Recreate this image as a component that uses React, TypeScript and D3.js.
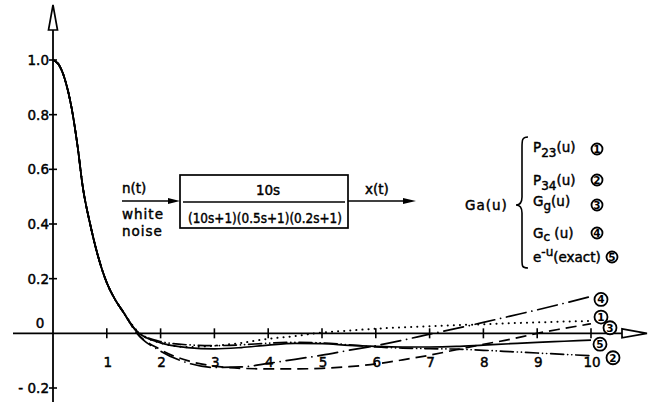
import React from 'react';
import * as d3 from 'd3';

// shared part of all correlation curves (they coincide up to u ~ 1.3)
const headU = [0, 0.1, 0.22, 0.35, 0.46, 0.55, 0.69, 0.84, 1.0, 1.15, 1.3];
const headV = [1.0, 0.985, 0.93, 0.82, 0.68, 0.54, 0.4, 0.28, 0.185, 0.125, 0.08];

// tails after u = 1.3
const tailU = [1.55, 2, 2.5, 3, 3.5, 4, 4.5, 5, 5.5, 6, 6.5, 7, 7.5, 8, 8.5, 9, 9.5, 10];
const p23 = [0.012, -0.035, -0.05, -0.045, -0.035, -0.02, -0.01, 0.003, 0.01, 0.017, 0.022, 0.026, 0.03, 0.033, 0.037, 0.04, 0.043, 0.045];
const p34 = [0.01, -0.03, -0.042, -0.045, -0.042, -0.036, -0.033, -0.035, -0.042, -0.05, -0.054, -0.056, -0.058, -0.062, -0.067, -0.072, -0.077, -0.082];
const gg = [0.004, -0.06, -0.1, -0.12, -0.128, -0.13, -0.13, -0.128, -0.122, -0.112, -0.097, -0.08, -0.06, -0.04, -0.022, 0.0, 0.018, 0.035];
const gc = [0.002, -0.065, -0.108, -0.125, -0.123, -0.11, -0.095, -0.08, -0.062, -0.045, -0.025, -0.003, 0.018, 0.04, 0.063, 0.086, 0.11, 0.135];
const exact = [0.008, -0.035, -0.052, -0.057, -0.052, -0.043, -0.037, -0.038, -0.044, -0.048, -0.05, -0.05, -0.048, -0.043, -0.038, -0.033, -0.029, -0.025];

const xTicks = [1, 2, 3, 4, 5, 6, 7, 8, 9, 10];
const yTicks = [-0.2, 0.2, 0.4, 0.6, 0.8, 1.0];
const yTickLabels = ['- 0.2', '0.2', '0.4', '0.6', '0.8', '1.0'];

const series = [
  { id: 1, vals: p23, dash: '0.1 6', width: 2, cap: 'round', dx: 10, dy: -4 },
  { id: 2, vals: p34, dash: '13 4 0.1 4 0.1 4', width: 1.7, cap: 'round', dx: 22, dy: 2 },
  { id: 3, vals: gg, dash: '11 6', width: 1.7, cap: 'butt', dx: 19, dy: 4 },
  { id: 4, vals: gc, dash: '20 6 0.1 6', width: 1.7, cap: 'round', dx: 10, dy: 3 },
  { id: 5, vals: exact, dash: null, width: 1.7, cap: 'butt', dx: 9, dy: 4 },
];

const FONT = 'DejaVu Sans, sans-serif';

function Circled({ cx, cy, n, r = 6.5 }: { cx: number; cy: number; n: number; r?: number }) {
  return (
    <g>
      <circle cx={cx} cy={cy} r={r} fill="#fff" stroke="#000" strokeWidth={1.8} />
      <text x={cx} y={cy + 3.8} textAnchor="middle" fontSize={10.5} fontWeight="bold" fontFamily={FONT}>
        {n}
      </text>
    </g>
  );
}

export default function App() {
  const width = 649;
  const height = 403;
  const x = d3.scaleLinear().domain([0, 10]).range([53, 591]);
  const y = d3.scaleLinear().domain([-0.2, 1]).range([388, 60]);
  const y0 = y(0);
  const x0 = x(0);

  const line = d3
    .line<[number, number]>()
    .x(d => x(d[0]))
    .y(d => y(d[1]))
    .curve(d3.curveMonotoneX);

  const head: [number, number][] = headU.map((u, i) => [u, headV[i]]);

  const txt = { fontFamily: FONT, fontSize: 13.5, fill: '#000', stroke: '#000', strokeWidth: 0.45 };

  return (
    <svg width={width} height={height} style={{ position: 'absolute', left: 0, top: 0, background: '#fff' }}>
      <rect width={width} height={height} fill="#fff" />

      {/* axes */}
      <line x1={x0} x2={x0} y1={402} y2={30} stroke="#000" strokeWidth={1.8} />
      <path d={`M${x0 - 4.5},30 L${x0},5 L${x0 + 4.5},30 Z`} fill="#fff" stroke="#000" strokeWidth={1.7} />
      <line x1={13} x2={622} y1={y0} y2={y0} stroke="#000" strokeWidth={1.8} />
      <path d={`M622,${y0 - 4.5} L647,${y0} L622,${y0 + 4.5} Z`} fill="#fff" stroke="#000" strokeWidth={1.7} />

      {yTicks.map((t, i) => (
        <g key={'y' + t}>
          <line x1={x0 - 4} x2={x0 + 4} y1={y(t)} y2={y(t)} stroke="#000" strokeWidth={1.6} />
          <text x={x0 - 4} y={y(t) + 5} textAnchor="end" {...txt}>
            {yTickLabels[i]}
          </text>
        </g>
      ))}
      <text x={40} y={y0 - 5} textAnchor="middle" {...txt}>0</text>

      {xTicks.map(t => (
        <g key={'x' + t}>
          <line x1={x(t)} x2={x(t)} y1={y0 - 5} y2={y0 + 5} stroke="#000" strokeWidth={1.6} />
          <text x={x(t) + 1} y={y0 + 34} textAnchor="middle" {...txt}>
            {t}
          </text>
        </g>
      ))}

      {/* curves */}
      {series.map(s => {
        const pts: [number, number][] = [...head, ...tailU.map((u, i) => [u, s.vals[i]] as [number, number])];
        return (
          <path
            key={s.id}
            d={line(pts) || ''}
            fill="none"
            stroke="#000"
            strokeWidth={s.width}
            strokeDasharray={s.dash || undefined}
            strokeLinecap={s.cap as any}
          />
        );
      })}
      <path d={line(head) || ''} fill="none" stroke="#000" strokeWidth={1.7} />

      {series.map(s => (
        <Circled key={'c' + s.id} cx={x(10) + s.dx} cy={y(s.vals[s.vals.length - 1]) + s.dy} n={s.id} />
      ))}

      {/* block diagram */}
      <text x={122} y={193} {...txt}>n(t)</text>
      <text x={122} y={219} {...txt} letterSpacing={1}>white</text>
      <text x={122} y={236} {...txt} letterSpacing={1}>noise</text>
      <line x1={122} x2={170} y1={201} y2={201} stroke="#000" strokeWidth={1.7} />
      <path d="M168,198 L180,201 L168,204 Z" fill="#000" />
      <rect x={180} y={175} width={168} height={53} fill="none" stroke="#000" strokeWidth={1.7} />
      <text x={268} y={195} textAnchor="middle" {...txt}>10s</text>
      <line x1={183} x2={345} y1={202} y2={202} stroke="#000" strokeWidth={1.5} />
      <text x={265} y={223} textAnchor="middle" {...txt} textLength={154} lengthAdjust="spacingAndGlyphs">
        (10s+1)(0.5s+1)(0.2s+1)
      </text>
      <line x1={348} x2={405} y1={201} y2={201} stroke="#000" strokeWidth={1.7} />
      <path d="M403,198 L416,201 L403,204 Z" fill="#000" />
      <text x={365} y={194} {...txt}>x(t)</text>

      {/* legend */}
      <text x={465} y={210} {...txt} letterSpacing={1}>Ga(u)</text>
      <path
        d="M528,137 C522,137 522,140 522,148 L522,197 C522,202 520,205 516,205 C520,205 522,208 522,213 L522,260 C522,266 522,268 528,268"
        fill="none"
        stroke="#000"
        strokeWidth={1.6}
      />
      <text x={533} y={152} {...txt}>
        P<tspan dy={5} fontSize={12}>23</tspan><tspan dy={-5}>(u)</tspan>
      </text>
      <Circled cx={597} cy={149} n={1} r={5.5} />
      <text x={533} y={185} {...txt}>
        P<tspan dy={5} fontSize={12}>34</tspan><tspan dy={-5}>(u)</tspan>
      </text>
      <Circled cx={597} cy={180} n={2} r={5.5} />
      <text x={533} y={206} {...txt}>
        G<tspan dy={4} fontSize={12}>g</tspan><tspan dy={-4}>(u)</tspan>
      </text>
      <Circled cx={597} cy={205} n={3} r={5.5} />
      <text x={533} y={238} {...txt}>
        G<tspan dy={3} fontSize={12}>c</tspan><tspan dy={-3}> (u)</tspan>
      </text>
      <Circled cx={597} cy={233} n={4} r={5.5} />
      <text x={533} y={262} {...txt}>
        e<tspan dy={-6} fontSize={12}>-u</tspan><tspan dy={6}>(exact)</tspan>
      </text>
      <Circled cx={612} cy={257} n={5} r={5.5} />
    </svg>
  );
}
